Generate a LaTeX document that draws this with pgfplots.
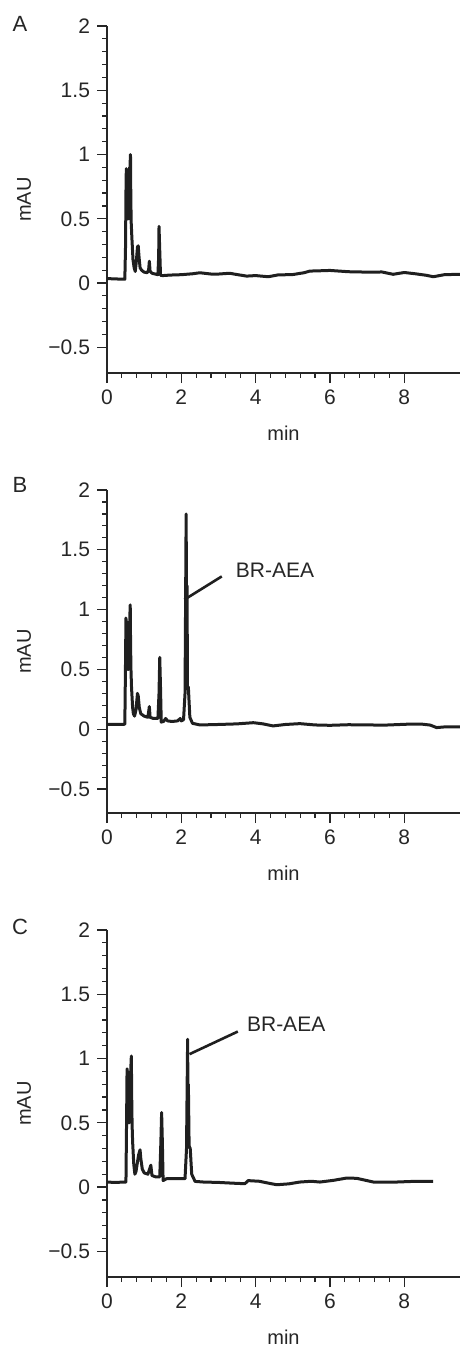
\documentclass[border=0pt]{standalone}
\usepackage{fontspec}
\setmainfont{Liberation Sans}
\usepackage{pgfplots}
\pgfplotsset{compat=1.18}

% 1 px of the reference = 0.5pt
\pgfplotsset{chrom/.style={
  scale only axis, width=176.5pt,
  xmin=0, xmax=9.5, ymin=-0.7, ymax=2,
  axis x line*=bottom, axis y line*=left,
  axis line style={line width=0.7pt, black!85},
  xtick={0,2,4,6,8}, xticklabels={0,2,4,6,8},
  ytick={-0.5,0,0.5,1,1.5,2}, yticklabels={−0.5,0,0.5,1,1.5,2},
  minor x tick num=4, minor y tick num=4,
  tick align=outside,
  major tick length=5pt, minor tick length=2.5pt,
  every tick/.style={black!85, line width=0.6pt},
  tick label style={font=\fontsize{10.5}{12}\selectfont, black!85},
  xlabel={min}, ylabel={mAU},
  label style={font=\fontsize{10}{12}\selectfont, black!85},
  ylabel style={at={(axis description cs:-0.235,0.5)}, anchor=center},
  xlabel style={at={(axis description cs:0.5,0)}, yshift=-30pt, anchor=center},
}}
\tikzset{trace/.style={line width=1.5pt, black!88, line join=round}}

\begin{document}
\begin{tikzpicture}
% ---------- A ----------
\begin{axis}[chrom, at={(53.5pt,-186.5pt)}, height=173.5pt]
\addplot[trace] coordinates {
(0,0.035) (0.2,0.032) (0.48,0.03) (0.50,0.3) (0.51,0.7) (0.52,0.89) (0.53,0.85)
(0.537,0.55) (0.545,0.88) (0.553,0.5) (0.561,0.86) (0.569,0.52) (0.577,0.84)
(0.585,0.5) (0.593,0.82) (0.601,0.52) (0.609,0.9) (0.617,0.55) (0.625,0.95)
(0.632,1.0) (0.64,0.7) (0.65,0.48) (0.67,0.35)
(0.70,0.18) (0.73,0.12) (0.76,0.09) (0.79,0.17) (0.82,0.28) (0.84,0.29)
(0.86,0.21) (0.89,0.12) (0.93,0.1) (1.0,0.085) (1.08,0.08) (1.12,0.1)
(1.14,0.17) (1.16,0.09) (1.22,0.075) (1.3,0.07) (1.37,0.065) (1.39,0.2)
(1.40,0.44) (1.42,0.25) (1.44,0.06) (1.5,0.058) (1.7,0.062) (2.0,0.065)
(2.3,0.072) (2.5,0.08) (2.8,0.07) (3.0,0.07) (3.3,0.076) (3.5,0.066)
(3.76,0.054) (4.0,0.058) (4.34,0.049) (4.6,0.063) (5.0,0.066) (5.3,0.08)
(5.46,0.093) (5.8,0.096) (6.0,0.098) (6.5,0.088) (7.0,0.085) (7.4,0.086)
(7.7,0.068) (8.0,0.082) (8.3,0.072) (8.6,0.06) (8.78,0.049) (9.1,0.066)
(9.5,0.067)};
\end{axis}
% ---------- B ----------
\begin{axis}[chrom, at={(53.5pt,-406.5pt)}, height=161.5pt]
\addplot[trace] coordinates {
(0,0.042) (0.2,0.04) (0.48,0.042) (0.50,0.6) (0.51,0.93) (0.52,0.88)
(0.528,0.55) (0.536,0.9) (0.544,0.5) (0.552,0.87) (0.56,0.52) (0.568,0.85)
(0.576,0.5) (0.584,0.84) (0.592,0.52) (0.60,0.88) (0.608,0.55) (0.616,0.95)
(0.625,1.04) (0.635,0.7) (0.645,0.5) (0.66,0.35)
(0.69,0.18) (0.71,0.13) (0.74,0.11) (0.78,0.16) (0.82,0.3) (0.84,0.28)
(0.87,0.18) (0.91,0.13) (1.0,0.11) (1.1,0.1) (1.14,0.19) (1.16,0.1)
(1.25,0.09) (1.37,0.09) (1.40,0.3) (1.42,0.6) (1.44,0.35) (1.46,0.06)
(1.52,0.065) (1.58,0.09) (1.63,0.07) (1.75,0.065) (1.9,0.07) (1.97,0.09)
(2.0,0.07) (2.06,0.08) (2.10,0.3) (2.13,1.8) (2.145,0.6) (2.155,1.2) (2.165,0.36)
(2.19,0.35) (2.23,0.1) (2.3,0.05) (2.5,0.036) (3.0,0.04) (3.5,0.045)
(3.94,0.055) (4.2,0.045) (4.47,0.028) (4.8,0.04) (5.19,0.047) (5.6,0.036)
(6.0,0.033) (6.5,0.038) (7.0,0.036) (7.5,0.035) (8.06,0.042) (8.5,0.042)
(8.7,0.035) (8.87,0.014) (9.1,0.02) (9.5,0.019)};
\draw[line width=1.3pt, black!88] (axis cs:2.08,1.083) -- (axis cs:3.09,1.278);
\node[anchor=west, font=\fontsize{10.5}{12}\selectfont, black!85] at (axis cs:3.28,1.325) {BR-AEA};
\end{axis}
% ---------- C ----------
\begin{axis}[chrom, at={(53.5pt,-638.5pt)}, height=173.5pt]
\addplot[trace] coordinates {
(0,0.039) (0.2,0.036) (0.51,0.039) (0.53,0.6) (0.54,0.92) (0.548,0.88)
(0.556,0.52) (0.564,0.9) (0.572,0.5) (0.58,0.86) (0.588,0.52) (0.596,0.84)
(0.604,0.5) (0.612,0.86) (0.62,0.52) (0.628,0.9) (0.636,0.55) (0.645,0.95)
(0.655,1.02) (0.665,0.7) (0.675,0.49) (0.69,0.35)
(0.72,0.18) (0.75,0.1) (0.78,0.12) (0.85,0.25) (0.89,0.29) (0.91,0.22)
(0.95,0.14) (1.0,0.11) (1.1,0.1) (1.18,0.17) (1.21,0.09) (1.3,0.08)
(1.42,0.08) (1.45,0.35) (1.47,0.58) (1.49,0.35) (1.51,0.05) (1.6,0.065)
(1.8,0.065) (2.1,0.065) (2.14,0.3) (2.17,1.15) (2.18,0.6) (2.19,0.8) (2.21,0.32)
(2.24,0.3) (2.28,0.1) (2.37,0.044) (2.6,0.039) (3.0,0.036) (3.4,0.03)
(3.71,0.026) (3.8,0.05) (4.1,0.045) (4.35,0.03) (4.57,0.018) (4.9,0.025)
(5.19,0.039) (5.5,0.045) (5.73,0.039) (6.09,0.052) (6.45,0.07) (6.72,0.068)
(7.0,0.05) (7.17,0.039) (7.7,0.038) (8.33,0.045) (8.78,0.044)};
\draw[line width=1.3pt, black!88] (axis cs:2.22,1.034) -- (axis cs:3.52,1.21);
\node[anchor=west, font=\fontsize{10.5}{12}\selectfont, black!85] at (axis cs:3.58,1.27) {BR-AEA};
\end{axis}
% panel letters
\node[font=\fontsize{11}{13}\selectfont, black!85] at (10pt,-12pt) {A};
\node[font=\fontsize{11}{13}\selectfont, black!85] at (10pt,-242.5pt) {B};
\node[font=\fontsize{11}{13}\selectfont, black!85] at (10pt,-463.5pt) {C};
\pgfresetboundingbox
\useasboundingbox (0,0) rectangle (230pt,-673.5pt);
\end{tikzpicture}
\end{document}
